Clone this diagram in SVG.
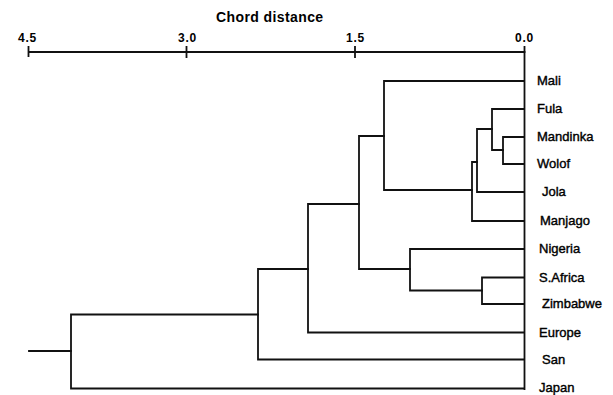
<svg xmlns="http://www.w3.org/2000/svg" width="613" height="395" viewBox="0 0 613 395">
<style>
.ln{fill:none;stroke:#111;stroke-width:1.8;stroke-linecap:square}
.lab{font-family:"Liberation Sans",Arial,sans-serif;font-size:13px;fill:#000;stroke:#000;stroke-width:0.4}
.ax{font-family:"Liberation Sans",Arial,sans-serif;font-size:12px;font-weight:bold;fill:#000;text-anchor:middle;letter-spacing:0.8px}
.ttl{font-family:"Liberation Sans",Arial,sans-serif;font-size:14px;font-weight:bold;fill:#000;letter-spacing:0.4px}
</style>
<rect width="613" height="395" fill="#fff"/>
<g id="axis">
<text class="ttl" x="216" y="22">Chord distance</text>
<path class="ln" d="M28.5 52H524.5M28.5 47V56M186.5 47V57M355 47V57"/>
<text class="ax" x="27.5" y="41.5">4.5</text>
<text class="ax" x="187.5" y="41.5">3.0</text>
<text class="ax" x="355.5" y="42">1.5</text>
<text class="ax" x="524.5" y="42">0.0</text>
</g>
<g id="connectors">
<path class="ln" d="M524.5 47V389"/>
<path class="ln" d="M524 81H384V190H472"/>
<path class="ln" d="M524 109H492V150H503"/>
<path class="ln" d="M524 137H503V164H524"/>
<path class="ln" d="M492 129H477V192H524"/>
<path class="ln" d="M477 162H472V221H524"/>
<path class="ln" d="M524 249H410V290.5H482"/>
<path class="ln" d="M524 277.5H482V304H524"/>
<path class="ln" d="M384 136H359V269H410"/>
<path class="ln" d="M359 204H308V332.5H524"/>
<path class="ln" d="M308 269H258V359.5H524"/>
<path class="ln" d="M258 314.5H71V388.5H524"/>
<path class="ln" d="M29 351H71"/>
</g>
<g id="mali"><text class="lab" x="537" y="85.2">Mali</text></g>
<g id="fula"><text class="lab" x="537" y="113.4">Fula</text></g>
<g id="mandinka"><text class="lab" x="537" y="141.2">Mandinka</text></g>
<g id="wolof"><text class="lab" x="537" y="168.4">Wolof</text></g>
<g id="jola"><text class="lab" x="542" y="196.4">Jola</text></g>
<g id="manjago"><text class="lab" x="540" y="225.4">Manjago</text></g>
<g id="nigeria"><text class="lab" x="539" y="253.4">Nigeria</text></g>
<g id="safrica"><text class="lab" x="539" y="281.8">S.Africa</text></g>
<g id="zimbabwe"><text class="lab" x="542" y="308.3">Zimbabwe</text></g>
<g id="europe"><text class="lab" x="539" y="336.8">Europe</text></g>
<g id="san"><text class="lab" x="542" y="364">San</text></g>
<g id="japan"><text class="lab" x="539" y="392">Japan</text></g>
</svg>
